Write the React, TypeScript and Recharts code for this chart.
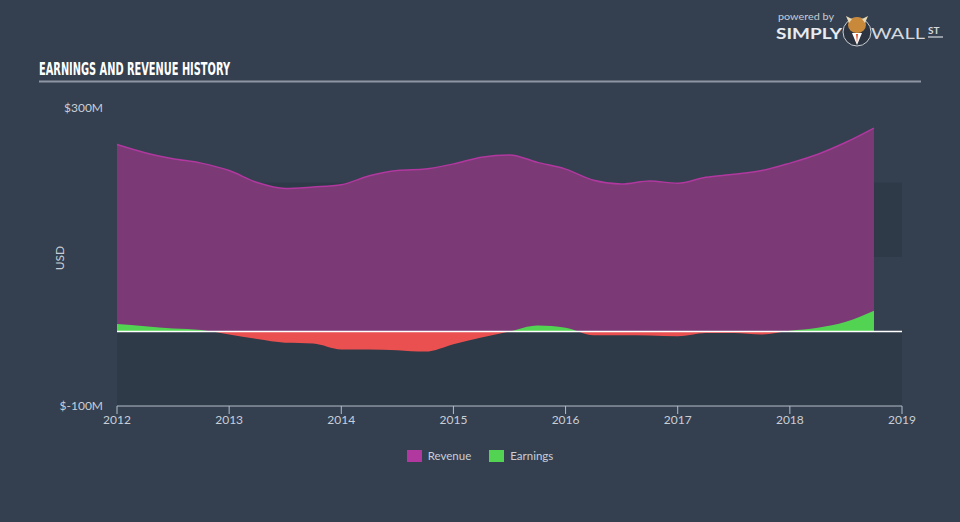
import React from "react";
import {
  Area,
  ComposedChart,
  ReferenceArea,
  ReferenceLine,
  XAxis,
  YAxis,
} from "recharts";

// quarterly periods (fractional years)
const periods = [
  2012, 2012.25, 2012.5, 2012.75, 2013, 2013.25, 2013.5, 2013.75, 2014,
  2014.25, 2014.5, 2014.75, 2015, 2015.25, 2015.5, 2015.75, 2016, 2016.25,
  2016.5, 2016.75, 2017, 2017.25, 2017.5, 2017.75, 2018, 2018.25, 2018.5,
  2018.75,
];
// $M
const revenue = [
  251, 240, 232, 226, 216, 200, 192, 194, 197, 209, 216, 218, 225, 234, 237,
  227, 218, 203, 198, 202, 199, 207, 211, 216, 226, 238, 254, 273,
];
const earnings = [
  10, 7, 4, 2, -4, -10, -15, -16, -24, -24, -25, -27, -17, -8, 0, 8, 5, -5,
  -5, -5.5, -6.5, -2, -2, -4, 1, 5, 13, 28,
];
const yearTicks = [2012, 2013, 2014, 2015, 2016, 2017, 2018, 2019];
const valueTicks = [-100, 300];

const BG = "#344050";
const BAND = "#2e3a48";
const REV_FILL = "#7b3a76";
const REV_LINE = "#b0389f";
const EARN_POS = "#52d452";
const EARN_NEG = "#ea5050";
const TEXT = "#c9ced6";
const FONT = "Lato, 'Open Sans', sans-serif";

const data = periods.map((p, i) => ({
  period: p,
  revenue: revenue[i],
  earnings: earnings[i],
}));

const eMax = Math.max(0, ...earnings);
const eMin = Math.min(0, ...earnings);
const zeroOffset = eMax / (eMax - eMin);

export default function App() {
  return (
    <div
      style={{
        position: "fixed",
        left: 0,
        top: 0,
        width: 960,
        height: 522,
        background: BG,
        fontFamily: FONT,
        overflow: "hidden",
      }}>
      <svg
        width={960}
        height={522}
        style={{ position: "absolute", left: 0, top: 0 }}>
        <text
          x={39}
          y={75}
          fill='#ffffff'
          fontFamily="'Liberation Sans Narrow', 'DejaVu Sans Condensed', sans-serif"
          fontWeight='bold'
          fontSize={17}
          textLength={191}
          lengthAdjust='spacingAndGlyphs'>
          EARNINGS AND REVENUE HISTORY
        </text>
        <line x1={39} x2={921} y1={81.5} y2={81.5} stroke='#8d96a2' strokeWidth={2} />
        {/* logo */}
        <text
          x={778}
          y={20}
          fill='#c7ccd3'
          fontSize={10}
          fontFamily={FONT}
          textLength={56}
          lengthAdjust='spacingAndGlyphs'>
          powered by
        </text>
        <text
          x={776}
          y={39}
          fill='#e8ebef'
          fontSize={15}
          fontWeight='bold'
          fontFamily={FONT}
          textLength={66}
          lengthAdjust='spacingAndGlyphs'>
          SIMPLY
        </text>
        <circle cx={857} cy={32} r={14} fill='#2b3440' stroke='#c7ccd3' strokeWidth={1} />
        <ellipse cx={857} cy={25} rx={9} ry={8} fill='#c8893a' />
        <path d='M846 16 L849 23 L852 19 Z M868 16 L865 23 L862 19 Z' fill='#e9d9b5' />
        <path d='M852 33 L857 45 L862 33 Z' fill='#ffffff' />
        <path d='M856 34 L857 43 L858 34 Z' fill='#e04a2a' />
        <text
          x={871}
          y={39}
          fill='#d5d9de'
          fontSize={15}
          fontFamily={FONT}
          textLength={54}
          lengthAdjust='spacingAndGlyphs'>
          WALL
        </text>
        <text x={928} y={34} fill='#d5d9de' fontSize={10} fontWeight='bold' fontFamily={FONT}>
          ST
        </text>
        <line x1={928} x2={943} y1={37} y2={37} stroke='#d5d9de' strokeWidth={1.2} />
        {/* y label */}
        <text
          x={0}
          y={0}
          transform='translate(64,258) rotate(-90)'
          textAnchor='middle'
          fill={TEXT}
          fontSize={12}
          fontFamily={FONT}>
          USD
        </text>
      </svg>

      <div style={{ position: "absolute", left: 0, top: 0 }}>
        <ComposedChart
          width={960}
          height={522}
          data={data}
          margin={{ top: 108, right: 58, bottom: 86, left: 0 }}>
          <defs>
            <linearGradient id='earnFill' x1='0' y1='0' x2='0' y2='1'>
              <stop offset={zeroOffset} stopColor={EARN_POS} />
              <stop offset={zeroOffset} stopColor={EARN_NEG} />
            </linearGradient>
          </defs>
          <ReferenceArea y1={-100} y2={0} fill={BAND} fillOpacity={1} stroke='none' />
          <ReferenceArea y1={100} y2={200} fill={BAND} fillOpacity={1} stroke='none' />
          <XAxis
            type='number'
            dataKey='period'
            domain={[2012, 2019]}
            ticks={yearTicks}
            allowDecimals={false}
            stroke='#b4bcc7'
            tickSize={8}
            tick={{ fill: TEXT, fontSize: 12, fontFamily: FONT }}
            tickMargin={1}
            height={30}
          />
          <YAxis
            type='number'
            domain={[-100, 300]}
            ticks={valueTicks}
            width={117}
            axisLine={false}
            tickLine={false}
            tickSize={0}
            tickMargin={14}
            tickFormatter={(v: number) => `$${v}M`}
            tick={{ fill: TEXT, fontSize: 12, fontFamily: FONT }}
          />
          <Area
            type='monotone'
            dataKey='revenue'
            stroke={REV_LINE}
            strokeWidth={1.5}
            fill={REV_FILL}
            fillOpacity={1}
            baseValue={0}
            isAnimationActive={false}
          />
          <Area
            type='monotone'
            dataKey='earnings'
            stroke='none'
            fill='url(#earnFill)'
            fillOpacity={1}
            baseValue={0}
            isAnimationActive={false}
          />
          <ReferenceLine y={0} stroke='#ffffff' strokeWidth={1.5} />
        </ComposedChart>
      </div>

      <div
        style={{
          position: "absolute",
          top: 449,
          left: 0,
          width: 960,
          display: "flex",
          justifyContent: "center",
          gap: 18,
          fontSize: 11.5,
          color: TEXT,
          fontFamily: FONT,
        }}>
        {[
          { name: "Revenue", color: REV_LINE },
          { name: "Earnings", color: EARN_POS },
        ].map((item) => (
          <div key={item.name} style={{ display: "flex", alignItems: "center", gap: 6 }}>
            <div style={{ width: 15, height: 12, background: item.color }} />
            <span>{item.name}</span>
          </div>
        ))}
      </div>
    </div>
  );
}
